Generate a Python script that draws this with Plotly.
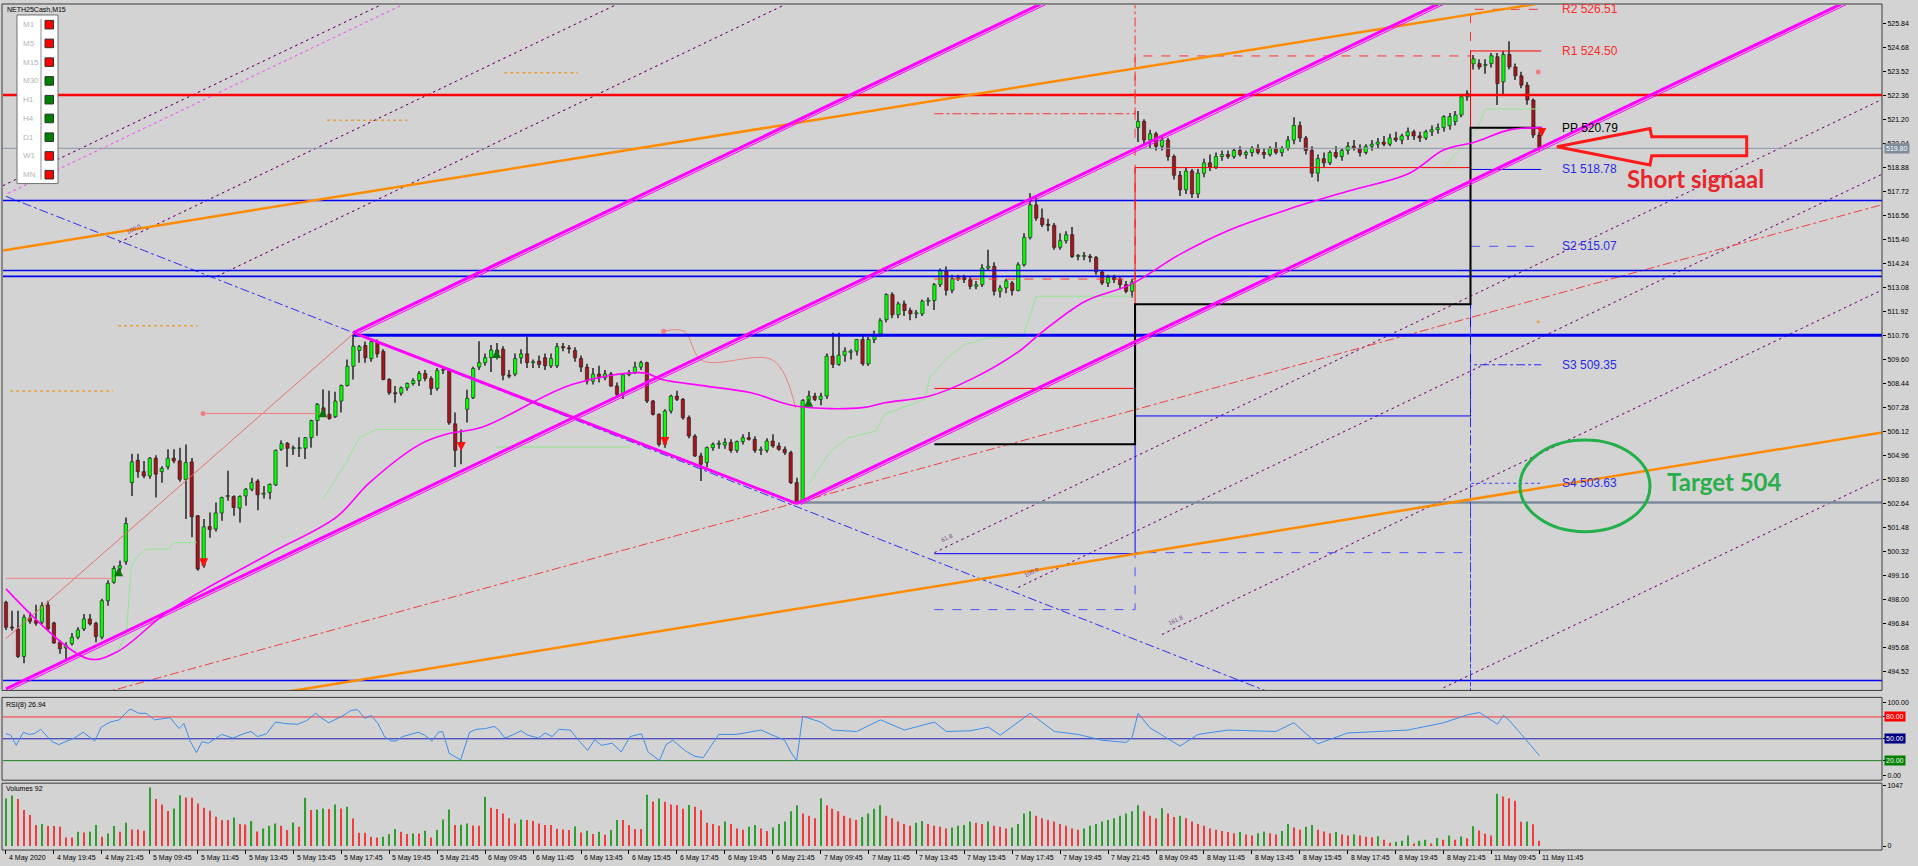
import plotly.graph_objects as go

W, H = 1918, 866
BG = "#D3D3D3"

# ------------------------------------------------------------------ data
title_text = "NETH25Cash,M15"

# candle rows per trading day: (open, high, low, close)
may4 = [
    (497.88, 497.96, 496.55, 496.68), (496.68, 497.48, 496.52, 496.64), (496.60, 497.48, 495.20, 495.27),
    (495.27, 497.30, 494.94, 497.16), (497.13, 497.40, 496.85, 496.97), (497.00, 497.77, 496.75, 496.87),
    (496.92, 497.88, 496.84, 497.72), (497.75, 497.96, 496.52, 496.60), (496.89, 496.95, 495.88, 495.92),
    (495.96, 496.05, 495.40, 495.64), (495.68, 495.95, 495.07, 495.80), (495.88, 496.40, 495.80, 496.20),
    (496.20, 496.68, 496.10, 496.55), (496.60, 497.32, 496.50, 497.08), (497.08, 497.32, 496.76, 496.84),
    (496.87, 496.95, 495.96, 496.23), (496.20, 498.05, 496.10, 497.96), (497.96, 498.95, 497.72, 498.80),
    (498.85, 499.65, 498.78, 499.52), (499.52, 499.90, 499.25, 499.65), (499.84, 501.98, 499.70, 501.69),
]
may5 = [
    (503.66, 505.06, 503.02, 504.66), (504.74, 505.06, 503.90, 504.19), (504.19, 504.70, 503.87, 503.98),
    (503.98, 504.90, 503.85, 504.84), (504.84, 504.98, 502.94, 504.07), (504.19, 504.45, 503.66, 504.35),
    (504.42, 505.27, 504.30, 504.84), (504.84, 505.27, 504.60, 504.71), (504.71, 505.35, 503.70, 503.82),
    (503.82, 505.50, 501.90, 504.63), (504.66, 504.85, 501.02, 502.01), (502.06, 502.10, 499.41, 499.49),
    (499.65, 501.90, 499.55, 501.53), (501.54, 502.22, 501.00, 501.40), (501.42, 502.70, 501.30, 502.20),
    (502.20, 502.98, 501.82, 502.94), (502.99, 504.23, 502.78, 502.99), (502.99, 503.05, 502.06, 502.46),
    (502.43, 503.05, 501.74, 502.99), (503.02, 503.40, 502.54, 503.34), (503.34, 503.90, 503.25, 503.66),
    (503.74, 503.82, 502.33, 503.07), (503.10, 503.50, 502.90, 503.13), (503.18, 503.62, 502.86, 503.58),
    (503.55, 505.26, 503.50, 505.22), (505.27, 505.70, 505.20, 505.54), (505.56, 505.62, 504.42, 505.32),
    (505.30, 505.45, 505.00, 505.30), (505.30, 505.85, 504.90, 505.30), (505.32, 505.86, 504.80, 505.83),
    (505.83, 506.70, 505.35, 506.66), (506.66, 507.50, 505.92, 507.44), (507.27, 508.16, 506.90, 506.96),
    (506.96, 508.10, 506.70, 506.76), (506.84, 508.05, 506.78, 507.60), (507.60, 508.40, 507.05, 508.35),
    (508.35, 509.60, 508.30, 509.28), (509.28, 510.81, 508.64, 510.25), (510.04, 510.30, 509.45, 510.22),
    (510.28, 510.48, 509.45, 509.69), (509.65, 510.52, 509.50, 510.46), (510.46, 510.57, 509.70, 509.88),
    (510.00, 510.10, 508.60, 508.64), (508.64, 508.70, 507.90, 508.00), (507.98, 508.32, 507.52, 507.95),
    (507.98, 508.30, 507.85, 508.24), (508.24, 508.50, 508.10, 508.45), (508.45, 508.70, 508.35, 508.59),
    (508.59, 509.05, 508.32, 508.93), (508.93, 509.10, 508.55, 508.69), (508.69, 508.80, 507.89, 508.21),
    (508.21, 509.20, 508.10, 509.08), (509.08, 509.20, 508.90, 509.08), (509.08, 509.20, 506.45, 506.55),
    (506.50, 507.05, 504.42, 505.22), (505.40, 506.23, 504.55, 505.62),
]
may6 = [
    (507.20, 508.15, 506.56, 507.73), (507.76, 509.25, 507.70, 509.17), (509.24, 510.49, 509.10, 509.45),
    (509.45, 509.90, 509.30, 509.69), (509.69, 510.30, 509.00, 510.06), (510.06, 510.40, 509.60, 509.90),
    (510.10, 510.25, 508.60, 508.85), (508.85, 509.10, 508.70, 508.80), (508.90, 509.90, 508.80, 509.65),
    (509.69, 510.10, 509.40, 509.88), (509.88, 510.70, 509.20, 509.45), (509.45, 509.60, 509.20, 509.49),
    (509.53, 509.80, 509.20, 509.37), (509.69, 509.90, 509.10, 509.30), (509.30, 509.90, 509.20, 509.65),
    (509.30, 510.40, 509.20, 510.23), (510.23, 510.40, 510.00, 510.17), (510.17, 510.30, 509.90, 510.12),
    (510.04, 510.20, 509.50, 509.69), (509.65, 509.80, 509.00, 509.24), (509.24, 509.40, 508.40, 508.56),
    (508.56, 509.20, 508.40, 508.90), (508.90, 509.30, 508.50, 508.72), (508.72, 509.10, 508.60, 508.91),
    (508.91, 509.00, 508.30, 508.32), (508.32, 508.50, 507.80, 507.92), (507.92, 508.90, 507.70, 508.87),
    (508.87, 509.10, 508.80, 508.96), (508.96, 509.50, 508.90, 509.24), (509.24, 509.55, 509.10, 509.45),
    (509.45, 509.50, 507.50, 507.60), (507.60, 507.65, 506.90, 506.96), (506.96, 507.00, 505.40, 505.51),
    (505.51, 507.20, 505.35, 507.12), (507.12, 507.90, 507.00, 507.84), (507.84, 508.10, 507.60, 507.68),
    (507.68, 507.75, 506.70, 506.80), (506.80, 506.90, 505.80, 505.91), (505.91, 506.00, 504.90, 504.95),
    (504.95, 505.10, 503.74, 504.55), (504.63, 505.40, 504.40, 505.35), (505.35, 505.60, 505.20, 505.51),
    (505.51, 505.70, 505.30, 505.51), (505.48, 505.80, 505.30, 505.60), (505.60, 505.75, 505.10, 505.22),
    (505.22, 505.70, 505.10, 505.64), (505.64, 506.00, 505.50, 505.83), (505.83, 506.10, 505.70, 505.75),
    (505.75, 505.90, 505.10, 505.22), (505.22, 505.40, 505.00, 505.22), (505.22, 505.80, 505.10, 505.67),
    (505.67, 506.00, 505.35, 505.43), (505.43, 505.60, 505.20, 505.27), (505.27, 505.40, 505.00, 505.11),
    (505.11, 505.20, 503.60, 503.66), (503.66, 503.90, 502.65, 502.70),
]
may7 = [
    (502.80, 507.70, 502.75, 507.63), (507.63, 508.10, 507.50, 507.84), (507.84, 508.00, 507.60, 507.68),
    (507.68, 508.00, 507.40, 507.84), (507.84, 509.90, 507.70, 509.77), (509.77, 510.90, 509.20, 509.37),
    (509.37, 510.90, 509.30, 509.81), (509.81, 510.20, 509.50, 510.01), (509.95, 510.10, 509.60, 510.01),
    (510.01, 510.60, 509.80, 510.57), (510.57, 510.80, 509.30, 509.40), (509.40, 510.70, 509.30, 510.57),
    (510.57, 511.00, 510.40, 510.81), (510.84, 511.60, 510.70, 511.48), (511.53, 512.80, 511.40, 512.74),
    (512.74, 512.85, 511.60, 511.77), (511.77, 512.40, 511.60, 512.29), (512.29, 512.45, 511.70, 511.97),
    (511.97, 512.10, 511.50, 511.81), (511.81, 512.00, 511.60, 511.81), (511.81, 512.50, 511.70, 512.42),
    (512.42, 512.60, 512.20, 512.45), (512.45, 513.30, 512.00, 513.22), (513.22, 514.00, 513.10, 513.89),
    (513.89, 514.10, 512.70, 512.95), (512.95, 513.70, 512.80, 513.50), (513.50, 513.70, 513.40, 513.57),
    (513.57, 513.70, 513.30, 513.46), (513.46, 513.60, 513.00, 513.14), (513.14, 513.40, 513.00, 513.22),
    (513.22, 514.20, 513.10, 514.02), (514.02, 514.90, 513.90, 514.10), (514.10, 514.30, 512.70, 512.90),
    (512.90, 513.20, 512.60, 513.06), (513.06, 513.50, 512.80, 513.40), (513.30, 513.40, 512.70, 512.93),
    (512.93, 514.30, 512.90, 514.18), (514.18, 515.70, 514.10, 515.50), (515.50, 517.63, 515.40, 517.07),
    (517.07, 517.50, 516.30, 516.43), (516.43, 516.90, 516.00, 516.11), (516.11, 516.40, 515.80, 516.08),
    (516.08, 516.20, 514.90, 515.02), (515.02, 515.70, 514.90, 515.34), (515.34, 515.80, 515.20, 515.63),
    (515.63, 516.00, 514.50, 514.58), (514.58, 514.70, 514.40, 514.62), (514.58, 514.80, 514.40, 514.58),
    (514.58, 514.70, 514.30, 514.53), (514.53, 514.60, 513.70, 513.83), (513.83, 513.90, 513.20, 513.30),
    (513.30, 513.70, 513.10, 513.57), (513.57, 513.70, 513.30, 513.46), (513.46, 513.60, 513.00, 513.22),
    (513.22, 513.40, 512.80, 512.90), (512.90, 513.50, 512.60, 513.35),
]
may8 = [
    (520.80, 521.60, 520.10, 521.10), (521.10, 521.20, 520.00, 520.20), (520.20, 520.70, 519.80, 520.50),
    (520.50, 520.60, 519.70, 519.90), (519.90, 520.40, 519.70, 520.20), (520.20, 520.30, 519.20, 519.40),
    (519.40, 519.50, 518.30, 518.50), (518.50, 518.70, 517.50, 517.80), (517.80, 518.90, 517.60, 518.70),
    (518.70, 518.80, 517.40, 517.60), (517.60, 518.80, 517.40, 518.60), (518.60, 519.30, 518.40, 519.10),
    (519.10, 519.50, 518.70, 518.90), (518.90, 519.60, 518.80, 519.40), (519.40, 519.70, 519.20, 519.50),
    (519.50, 519.70, 519.30, 519.40), (519.40, 519.80, 519.30, 519.70), (519.70, 519.90, 519.40, 519.50),
    (519.50, 519.70, 519.30, 519.60), (519.60, 519.90, 519.40, 519.80), (519.80, 520.00, 519.50, 519.60),
    (519.60, 519.80, 519.30, 519.50), (519.50, 519.90, 519.40, 519.80), (519.80, 520.10, 519.50, 519.60),
    (519.60, 519.90, 519.40, 519.80), (519.80, 520.40, 519.70, 520.20), (520.20, 521.30, 520.00, 520.90),
    (520.90, 521.10, 520.10, 520.30), (520.30, 520.40, 519.50, 519.70), (519.70, 519.90, 518.40, 518.60),
    (518.60, 519.50, 518.20, 519.30), (519.30, 519.60, 518.90, 519.10), (519.10, 519.70, 519.00, 519.60),
    (519.60, 519.90, 519.30, 519.40), (519.40, 519.80, 519.20, 519.70), (519.70, 520.10, 519.50, 519.90),
    (519.90, 520.20, 519.70, 519.80), (519.80, 520.00, 519.40, 519.60), (519.60, 520.00, 519.50, 519.90),
    (519.90, 520.20, 519.70, 520.00), (520.00, 520.30, 519.80, 520.10), (520.10, 520.40, 519.90, 520.00),
    (520.00, 520.50, 519.90, 520.30), (520.30, 520.60, 520.10, 520.20), (520.20, 520.50, 520.00, 520.40),
    (520.40, 520.80, 520.20, 520.60), (520.60, 520.70, 520.20, 520.40), (520.40, 520.60, 520.10, 520.30),
    (520.30, 520.70, 520.20, 520.60), (520.60, 520.90, 520.40, 520.70), (520.70, 521.00, 520.50, 520.80),
    (520.80, 521.40, 520.60, 521.33), (520.89, 521.50, 520.70, 521.33), (521.09, 521.60, 520.90, 521.41),
    (521.41, 522.40, 521.30, 522.29), (522.29, 522.60, 522.10, 522.45),
]
may11 = [
    (523.88, 524.30, 523.60, 524.12), (523.89, 524.10, 523.60, 523.73), (523.80, 524.10, 523.40, 523.85),
    (523.89, 524.40, 523.70, 524.27), (524.22, 524.40, 521.89, 522.93), (523.01, 524.50, 522.40, 524.33),
    (524.33, 524.97, 523.60, 523.73), (523.73, 523.90, 523.10, 523.30), (523.30, 523.50, 522.70, 522.85),
    (522.85, 523.00, 521.90, 522.13), (522.13, 522.20, 520.30, 520.44), (520.44, 520.60, 519.70, 519.80),
]

vol_may4 = [818, 870, 807, 618, 532, 360, 378, 343, 343, 332, 149, 149, 246, 235, 246, 360, 160, 217, 343, 246, 400]
vol_may5 = [286, 286, 263, 1007, 807, 715, 601, 646, 875, 835, 829, 732, 658, 606, 504, 446, 446, 492, 378, 372,
            429, 252, 303, 349, 389, 349, 275, 406, 332, 829, 618, 629, 646, 635, 715, 646, 675, 475, 229, 229,
            160, 149, 160, 206, 292, 246, 206, 217, 217, 263, 149, 275, 458, 629, 360, 366]
vol_may6 = [389, 355, 349, 847, 658, 635, 561, 480, 389, 458, 446, 435, 389, 360, 360, 297, 286, 275, 338, 235,
            263, 206, 246, 194, 275, 446, 446, 360, 292, 292, 881, 767, 818, 761, 715, 704, 641, 704, 675, 618,
            400, 380, 350, 420, 380, 300, 280, 330, 360, 300, 260, 320, 380, 420, 600, 700]
vol_may7 = [560, 520, 480, 820, 700, 640, 600, 520, 480, 450, 500, 560, 640, 700, 520, 480, 420, 380, 350, 400,
            430, 380, 350, 330, 300, 320, 350, 360, 420, 400, 380, 420, 350, 330, 300, 320, 380, 560, 600, 520,
            480, 450, 420, 380, 350, 300, 280, 300, 350, 380, 420, 450, 480, 520, 560, 600]
vol_may8 = [700, 600, 520, 480, 650, 560, 500, 520, 480, 420, 380, 350, 300, 280, 260, 240, 220, 240, 200, 180,
            220, 250, 220, 200, 260, 380, 320, 280, 330, 360, 280, 250, 220, 240, 200, 180, 200, 180, 160, 150,
            170, 110, 57, 75, 92, 181, 45, 92, 110, 45, 140, 110, 181, 110, 163, 134]
vol_may11 = [340, 269, 210, 181, 900, 850, 820, 780, 416, 420, 375, 92]

# RSI(8) read at chart positions (bar index, value)
rsi_bar = [0, 0.8, 1.7, 2.9, 3.8, 4.7, 5.8, 7.7, 8.8, 9.9, 11.4, 12.9, 14.8, 15.9, 17.4, 18.9, 20.7, 22.2, 23.4,
           24.8, 26.3, 27.4, 28.9, 29.7, 30.8, 31.8, 32.7, 33.8, 36, 37.9, 39.7, 40.9, 42, 43.5, 45, 46.5, 48.7,
           50.2, 51.7, 52.4, 53.9, 56.1, 57.6, 58.7, 59.9, 61, 62.1, 63.2, 64.3, 65.1, 66.2, 67.7, 68.8, 69.9,
           71.1, 72.2, 72.9, 74, 75.9, 77.4, 78.5, 80, 81.5, 82.2, 83.3, 84.5, 86, 87.1, 88.2, 88.9, 90, 91.2,
           92.3, 94.2, 95.6, 97.1, 98.3, 99.4, 101.2, 102.7, 104.2, 106.1, 107.2, 109.1, 110.2, 111.3, 113.5,
           115, 116.4, 119, 122, 126, 130, 131, 132, 133, 136, 138, 142, 146, 150, 155, 157, 161, 164, 166, 171,
           175, 179, 183, 187, 188, 189, 191, 196, 199, 204, 212, 215, 219, 224, 234, 240, 244, 246, 249, 250,
           251, 253, 255, 256]
rsi_val = [57, 55, 41, 59, 56, 57, 63, 46, 42, 46, 51, 59, 47, 66, 73, 76, 91, 85, 85, 76, 78, 79, 64, 71, 46, 31,
           46, 44, 56, 51, 57, 60, 53, 57, 73, 71, 70, 75, 85, 80, 72, 81, 89, 90, 78, 82, 71, 53, 47, 47, 53, 56,
           59, 55, 47, 59, 60, 30, 21, 59, 63, 64, 67, 63, 51, 55, 61, 55, 53, 51, 58, 53, 63, 62, 48, 34, 49, 41,
           44, 32, 53, 57, 32, 20, 42, 48, 33, 26, 24, 56, 56, 62, 48, 32, 20, 81, 73, 62, 60, 76, 62, 73, 60, 61,
           66, 55, 85, 60, 56, 48, 45, 52, 85, 65, 40, 56, 62, 60, 72, 43, 58, 62, 72, 83, 86, 70, 82, 75, 56, 36,
           26.94]

# moving average (magenta) read at chart positions
ma_bar = [0, 13.7, 18.4, 27.3, 44, 55.1, 60.7, 69.1, 73.5, 79.6, 94.5, 106.5, 109.5, 116.9, 124.4, 131.8, 143,
          146.7, 154.2, 161.6, 169.1, 172.8, 180.2, 187.7, 195.9, 203.7, 214, 224, 234.3, 240, 245.4, 251, 256.5]
ma_val = [498.53, 495.16, 495.47, 497.48, 500.23, 501.98, 503.66, 505.51, 506.0, 506.35, 508.40, 508.96, 508.64,
          508.32, 508.0, 507.36, 507.28, 507.52, 507.84, 508.72, 510.0, 510.89, 512.42, 513.22, 514.67, 515.79,
          516.85, 517.73, 518.6, 519.72, 520.12, 520.69, 520.8]

# x-axis time labels (every 8 bars)
time_labels = ["4 May 2020", "4 May 19:45", "4 May 21:45",
               "5 May 09:45", "5 May 11:45", "5 May 13:45", "5 May 15:45", "5 May 17:45", "5 May 19:45", "5 May 21:45",
               "6 May 09:45", "6 May 11:45", "6 May 13:45", "6 May 15:45", "6 May 17:45", "6 May 19:45", "6 May 21:45",
               "7 May 09:45", "7 May 11:45", "7 May 13:45", "7 May 15:45", "7 May 17:45", "7 May 19:45", "7 May 21:45",
               "8 May 09:45", "8 May 11:45", "8 May 13:45", "8 May 15:45", "8 May 17:45", "8 May 19:45", "8 May 21:45",
               "11 May 09:45", "11 May 11:45"]
label_bars = [0, 8, 16, 24, 32, 40, 48, 56, 64, 72, 80, 88, 96, 104, 112, 120, 128, 136, 144, 152, 160, 168,
              176, 184, 192, 200, 208, 216, 224, 232, 240, 248, 256]

price_ticks = [525.84, 524.68, 523.52, 522.36, 521.20, 520.04, 518.88, 517.72, 516.56, 515.40, 514.24, 513.08,
               511.92, 510.76, 509.60, 508.44, 507.28, 506.12, 504.96, 503.80, 502.64, 501.48, 500.32, 499.16,
               498.00, 496.84, 495.68, 494.52]

# horizontal levels
red_level = 522.38
bid_level = 519.80
blue_levels = [517.28, 513.90, 513.62, 494.11]
blue_thick_level = 510.78
gray_level = 502.70

# pivot levels per day: 7 May, 8 May, 11 May
pivot_days_start = [155, 188.5, 244.5]
pivot_end = 256.3
pp_lv = [505.51, 512.27, 520.79]
r1_lv = [508.21, 518.87, 524.50]
r2_lv = [513.49, 524.26, 526.51]
r3_lv = [521.47, 536.25, 532.23]
s1_lv = [500.23, 506.88, 518.78]
s2_lv = [497.53, 500.28, 515.07]
s3_lv = [489.55, 488.29, 509.35]
s4_lv = [481.57, 476.30, 503.63]
pivot_text = ["R2 526.51", "R1 524.50", "PP 520.79", "S1 518.78", "S2 515.07", "S3 509.35", "S4 503.63"]
pivot_text_lv = [526.51, 524.50, 520.79, 518.78, 515.07, 509.35, 503.63]

# trend lines: two points each (bar index, price)
magenta_up_1 = [(0, 493.70), (260, 529.66)]
magenta_up_2 = [(58, 510.90), (200, 530.54)]
magenta_up_3 = [(132, 502.65), (320, 528.65)]
magenta_down = [(58, 510.90), (132, 502.65)]
orange_upper = [(-0.5, 514.87), (300, 528.84)]
orange_lower = [(40, 493.24), (320, 506.40)]
blue_dashdot = [(0, 517.48), (215, 493.08)]
red_dashdot = [(10, 493.01), (320, 517.62)]
salmon_zigzag = [(0, 496.13), (58, 510.85)]
dotted_tl = [[(-0.5, 518.00), (80, 529.13)], [(18.9, 515.26), (110, 527.86)], [(35.2, 513.62), (130, 526.73)]]
dotted_tl_m = [[(0.3, 517.62), (80, 528.64)]]
dotted_right = [[(155, 500.28), (320, 523.10)], [(169, 498.60), (320, 519.49)],
                [(193, 496.33), (320, 513.90)], [(240, 493.76), (320, 504.82)]]
fibo_tags = ["100.0", "61.8", "100.0", "161.8"]
fibo_tag_pos = [(19.5, 515.5), (155.5, 500.6), (169.5, 498.9), (193.5, 496.6)]
orange_dots = [[(0.7, 508.08), (17.9, 508.08)], [(18.7, 511.24), (32, 511.24)],
               [(53.6, 521.15), (67, 521.15)], [(83.2, 523.45), (95.5, 523.45)]]
salmon_steps = [[(0, 499.04), (17.9, 499.04)], [(32.9, 507.0), (51.8, 507.0)],
                [(109.8, 510.97), (113.2, 510.97), (116.2, 509.56), (128.1, 509.56), (131.8, 507.27)]]
salmon_step_dots = [(32.9, 507.0), (109.8, 510.97), (255.8, 523.49)]
green_steps = [[(18.7, 495.56), (20.1, 496.36), (20.9, 499.57), (21.8, 500.05), (23.4, 500.45), (27.3, 500.45),
                (27.9, 500.77), (31.8, 500.77)],
               [(52.9, 502.86), (56.8, 504.63), (59, 505.83), (61.8, 506.23), (74.1, 506.23)],
               [(81.9, 505.38), (104.2, 505.38)],
               [(134, 503.59), (137.7, 505.19), (140.7, 505.83), (145.2, 506.15), (146.7, 506.96),
                (153.4, 507.68), (154.2, 508.72), (157.1, 509.68), (160.1, 510.33), (163.9, 510.65),
                (169.8, 510.73), (172, 512.66), (188, 512.66)],
               [(240, 518.84), (245.5, 520.7), (247, 521.7), (256, 521.7)]]
orange_point = [(255.8, 511.43)]
down_arrows = [(33, 499.57), (76, 505.19), (110, 505.43), (256.4, 520.35)]
up_arrows = [(18.8, 499.57), (52.9, 507.25), (81.9, 510.11), (134, 507.76)]

tf_names = ["M1", "M5", "M15", "M30", "H1", "H4", "D1", "W1", "MN"]
tf_state = ["down", "down", "down", "up", "up", "up", "up", "down", "down"]

# ------------------------------------------------------------------ helpers
X_LO, X_HI = -0.5, 313.2           # bar-index range of the plot area
P_LO, P_HI = 493.63, 526.72         # main price range
R_LO, R_HI = -6.85, 106.85
V_LO, V_HI = -51.5, 1081.0


def px(x):
    return x / W


def py(y):
    return 1 - y / H


rows = may4 + may5 + may6 + may7 + may8 + may11
opens = [r[0] for r in rows]
highs = [r[1] for r in rows]
lows = [r[2] for r in rows]
closes = [r[3] for r in rows]
volumes = vol_may4 + vol_may5 + vol_may6 + vol_may7 + vol_may8 + vol_may11
idx = list(range(len(rows)))

fig = go.Figure()


def line(pts, color, width=1.0, dash="solid", shape="linear", axis=("x", "y")):
    fig.add_trace(go.Scatter(x=[p[0] for p in pts], y=[p[1] for p in pts], mode="lines",
                             line=dict(color=color, width=width, dash=dash, shape=shape),
                             xaxis=axis[0], yaxis=axis[1], hoverinfo="skip", showlegend=False))


def dots(pts, color, size, symbol="circle"):
    fig.add_trace(go.Scatter(x=[p[0] for p in pts], y=[p[1] for p in pts], mode="markers",
                             marker=dict(symbol=symbol, size=size, color=color, line=dict(width=0)),
                             hoverinfo="skip", showlegend=False))


# ------------------------------------------------------------------ main panel objects (behind candles)
for seg in orange_dots:
    line(seg, "#E8A040", 1.5, "dot")
for seg in dotted_tl:
    line(seg, "#FF44FF", 1, "dot")
    line(seg, "#202020", 1, "2px,4px")
for seg in dotted_tl_m:
    line(seg, "#FF44FF", 1, "dot")
for seg in dotted_right:
    line(seg, "#FF44FF", 1, "dot")
    line(seg, "#303030", 1, "2px,4px")
line(red_dashdot, "#F04040", 1, "dashdot")
line(blue_dashdot, "#3030F0", 1, "dashdot")
line(salmon_zigzag, "#E87070", 1)
for seg in salmon_steps:
    line(seg, "#F08080", 1, shape="spline")
dots(salmon_step_dots, "#F08080", 5)
dots(orange_point, "#F0A040", 3)
for seg in green_steps:
    line(seg, "#90E890", 1)

# horizontal lines
line([(X_LO, red_level), (X_HI, red_level)], "#FF0000", 2.5)
line([(X_LO, bid_level), (X_HI, bid_level)], "#8A96A8", 1)
for lv in blue_levels:
    line([(X_LO, lv), (X_HI, lv)], "#0000F0", 1.6)
line([(58, blue_thick_level), (X_HI, blue_thick_level)], "#0000F0", 3)
line([(132, gray_level), (X_HI, gray_level)], "#7C8C9C", 2.5)


def pivot_steps(levels):
    pts = []
    for k, lv in enumerate(levels):
        x0 = pivot_days_start[k]
        x1 = pivot_days_start[k + 1] if k + 1 < len(levels) else pivot_end
        pts += [(x0, lv), (x1, lv)]
    return pts


line(pivot_steps(r3_lv), "#FF3030", 1, "dashdot")
line(pivot_steps(r2_lv), "#FF3030", 1, "dash")
line(pivot_steps(r1_lv), "#FF0000", 1)
line(pivot_steps(s1_lv), "#0000FF", 1)
line(pivot_steps(s2_lv), "#5050FF", 1, "dash")
line(pivot_steps(s3_lv), "#2828FF", 1, "dashdot")
line(pivot_steps(s4_lv), "#4040FF", 1, "dot")
line(pivot_steps(pp_lv), "#000000", 2)

# orange trend lines
line(orange_upper, "#FF8C00", 2.5)
line(orange_lower, "#FF8C00", 2.5)

# moving average
line(list(zip(ma_bar, ma_val)), "#FF00FF", 1.6, shape="spline")

# ------------------------------------------------------------------ candles
fig.add_trace(go.Bar(x=idx, y=[h - l for h, l in zip(highs, lows)], base=lows, width=0.18,
                     marker=dict(color="#505050", line=dict(width=0)), hoverinfo="skip", showlegend=False))
up_i = [i for i in idx if closes[i] >= opens[i]]
dn_i = [i for i in idx if closes[i] < opens[i]]
fig.add_trace(go.Bar(x=up_i, y=[max(closes[i] - opens[i], 0.05) for i in up_i], base=[opens[i] for i in up_i],
                     width=0.55, marker=dict(color="#00FF00", line=dict(color="#1A1A1A", width=0.6)),
                     hoverinfo="skip", showlegend=False))
fig.add_trace(go.Bar(x=dn_i, y=[max(opens[i] - closes[i], 0.05) for i in dn_i], base=[closes[i] for i in dn_i],
                     width=0.55, marker=dict(color="#A5151B", line=dict(color="#1A1A1A", width=0.6)),
                     hoverinfo="skip", showlegend=False))

# magenta channel lines (on top)
for ln in (magenta_up_1, magenta_up_2, magenta_up_3):
    line(ln, "#FF00FF", 3)
    line([(p[0] + 0.7, p[1] - 0.05) for p in ln], "#FF00FF", 1)
line(magenta_down, "#FF00FF", 3)

# signal arrows
dots(down_arrows, "#FF1010", 9, "arrow-down")
dots(up_arrows, "#107010", 9, "arrow-up")

# ------------------------------------------------------------------ RSI panel
for lv, c in ((80, "#FF3030"), (50, "#2020B0"), (20, "#208020")):
    line([(X_LO, lv), (X_HI, lv)], c, 1, axis=("x2", "y2"))
line(list(zip(rsi_bar, rsi_val)), "#3C8EEA", 1, axis=("x2", "y2"))

# ------------------------------------------------------------------ volume panel
vcol = ["#2E9E2E" if (i == 0 or volumes[i] > volumes[i - 1]) else "#F03C3C" for i in idx]
fig.add_trace(go.Bar(x=idx, y=volumes, width=0.2, marker=dict(color=vcol, line=dict(width=0)),
                     xaxis="x3", yaxis="y3", hoverinfo="skip", showlegend=False))

# ------------------------------------------------------------------ layout
XD = [px(3), px(1882)]
axis_font = dict(family="Liberation Sans, Arial, sans-serif", size=7, color="#000000")
common_x = dict(domain=XD, range=[X_LO, X_HI], showgrid=False, zeroline=False, showticklabels=False,
                showline=False)
fig.update_layout(
    width=W, height=H, margin=dict(l=0, r=0, t=0, b=0),
    paper_bgcolor=BG, plot_bgcolor=BG, showlegend=False, barmode="overlay",
    font=axis_font,
    xaxis=dict(**common_x, anchor="y"),
    xaxis2=dict(**common_x, anchor="y2", matches="x"),
    xaxis3=dict(**common_x, anchor="y3", matches="x", ticks="outside", tickvals=label_bars, ticklen=4,
                tickcolor="#000000", tickwidth=1),
    yaxis=dict(domain=[py(690), py(3)], range=[P_LO, P_HI], side="right", anchor="x",
               tickvals=price_ticks, ticktext=[f"{v:.2f}" for v in price_ticks], ticks="outside",
               ticklen=3, tickcolor="#000000", showgrid=False, zeroline=False, tickfont=axis_font),
    yaxis2=dict(domain=[py(780), py(697)], range=[R_LO, R_HI], side="right", anchor="x2",
                tickvals=[100, 80, 50, 20, 0], ticktext=["100.00", "", "", "", "0.00"], ticks="outside",
                ticklen=3, tickcolor="#000000", showgrid=False, zeroline=False, tickfont=axis_font),
    yaxis3=dict(domain=[py(849), py(783)], range=[V_LO, V_HI], side="right", anchor="x3",
                tickvals=[1047, 0], ticktext=["1047", "0"], ticks="outside", ticklen=3, tickcolor="#000000",
                showgrid=False, zeroline=False, tickfont=axis_font),
)

shapes = []
# panel frames
for (y0, y1) in ((2, 690), (697, 780), (783, 850)):
    shapes.append(dict(type="rect", xref="paper", yref="paper", x0=px(2), x1=px(1882), y0=py(y1), y1=py(y0),
                       line=dict(color="#3A3A3A", width=1), fillcolor="rgba(0,0,0,0)", layer="above"))
# timeframe box
shapes.append(dict(type="rect", xref="paper", yref="paper", x0=px(17), x1=px(58), y0=py(182), y1=py(13),
                   line=dict(color="#707070", width=1), fillcolor="#FFFFFF", layer="above"))
shapes.append(dict(type="line", xref="paper", yref="paper", x0=px(41), x1=px(41), y0=py(178), y1=py(17),
                   line=dict(color="#909090", width=1), layer="above"))
annotations = []
for k, (nm, st) in enumerate(zip(tf_names, tf_state)):
    yc = 22.7 + k * 18.8
    shapes.append(dict(type="rect", xref="paper", yref="paper", x0=px(45), x1=px(53.5), y0=py(yc + 4.3),
                       y1=py(yc - 4.3), line=dict(color="#303030", width=1),
                       fillcolor="#FF0000" if st == "down" else "#008000", layer="above"))
    annotations.append(dict(xref="paper", yref="paper", x=px(21), y=py(yc), text=nm, showarrow=False,
                            xanchor="left", yanchor="middle",
                            font=dict(family="Liberation Sans, Arial", size=8, color="#B4B4B4")))

# "Short signaal" outlined arrow
arrow_pts = [(1557, 145), (1650, 126.7), (1651.7, 135), (1746.7, 135), (1746.7, 154), (1651.7, 154),
             (1650, 163.3)]
path = "M " + " L ".join(f"{px(x):.5f},{py(y):.5f}" for x, y in arrow_pts) + " Z"
shapes.append(dict(type="path", xref="paper", yref="paper", path=path, line=dict(color="#FF1A1A", width=3),
                   fillcolor="rgba(0,0,0,0)", layer="above"))
# green target ellipse
shapes.append(dict(type="circle", xref="paper", yref="paper", x0=px(1520), x1=px(1650), y0=py(531), y1=py(439),
                   line=dict(color="#22B04A", width=3), fillcolor="rgba(0,0,0,0)", layer="above"))

# texts
annotations.append(dict(xref="paper", yref="paper", x=px(5), y=py(7.5), text=title_text, showarrow=False,
                        xanchor="left", yanchor="middle", font=axis_font))
annotations.append(dict(xref="paper", yref="paper", x=px(4), y=py(705), text="RSI(8) 26.94", showarrow=False,
                        xanchor="left", yanchor="middle", font=axis_font))
annotations.append(dict(xref="paper", yref="paper", x=px(4), y=py(788), text="Volumes 92", showarrow=False,
                        xanchor="left", yanchor="middle", font=axis_font))
for lab, b in zip(time_labels, label_bars):
    annotations.append(dict(xref="x3", yref="paper", x=b, y=py(857.5), text=lab, showarrow=False,
                            xanchor="left", yanchor="middle", xshift=1, font=axis_font))
for t, lv in zip(pivot_text, pivot_text_lv):
    c = "#FF2A2A" if t.startswith("R") else ("#000000" if t.startswith("P") else "#2A2AE6")
    annotations.append(dict(xref="x", yref="y", x=259.4, y=lv, text=t, showarrow=False, xanchor="left",
                            yanchor="middle", font=dict(family="Liberation Sans, Arial", size=12, color=c)))
for t, (bx, by) in zip(fibo_tags, fibo_tag_pos):
    annotations.append(dict(xref="x", yref="y", x=bx, y=by, text=t, showarrow=False, xanchor="left",
                            yanchor="bottom", textangle=-25,
                            font=dict(family="Liberation Sans, Arial", size=6, color="#7A3C8A")))
annotations.append(dict(xref="paper", yref="paper", x=px(1625), y=py(177), text="<b>Short signaal</b>",
                        showarrow=False, xanchor="left", yanchor="middle",
                        font=dict(family="Lato, Open Sans, sans-serif", size=24, color="#E8262A")))
annotations.append(dict(xref="paper", yref="paper", x=px(1665), y=py(481), text="<b>Target 504</b>",
                        showarrow=False, xanchor="left", yanchor="middle",
                        font=dict(family="Lato, Open Sans, sans-serif", size=24, color="#2BAE4A")))
# price-axis boxes
annotations.append(dict(xref="paper", yref="y", x=px(1884), y=bid_level, text="519.80", showarrow=False,
                        xanchor="left", yanchor="middle", bgcolor="#7E8C9E", borderpad=1,
                        font=dict(family="Liberation Sans, Arial", size=7, color="#FFFFFF")))
for lv, bgc in ((80, "#FF0000"), (50, "#000080"), (20, "#008000")):
    annotations.append(dict(xref="paper", yref="y2", x=px(1884), y=lv, text=f"{lv:.2f}", showarrow=False,
                            xanchor="left", yanchor="middle", bgcolor=bgc, borderpad=1,
                            font=dict(family="Liberation Sans, Arial", size=7, color="#FFFFFF")))

fig.update_layout(shapes=shapes, annotations=annotations)

fig.write_html("out.html", config={"displayModeBar": False},
               post_script="document.body.style.margin='0';document.body.style.overflow='hidden';")
